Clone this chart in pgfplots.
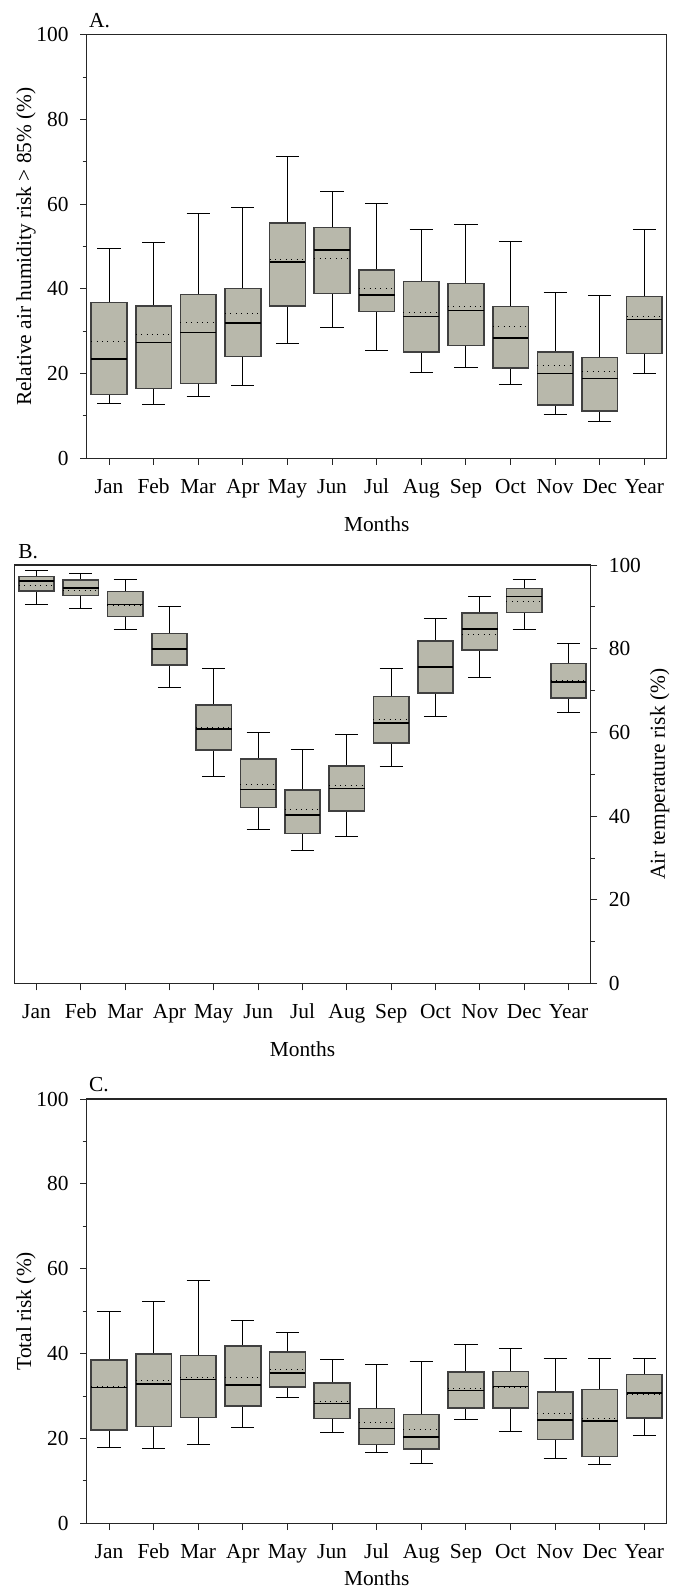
\documentclass[border=0pt]{standalone}
\usepackage{fontspec}
\setmainfont{Liberation Serif}
\usepackage{pgfplots}
\pgfplotsset{compat=1.18}
\usepgfplotslibrary{statistics}
\definecolor{boxfill}{RGB}{184,184,171}
\newcommand{\fnt}{\fontsize{10.7bp}{12.8bp}\selectfont}
% position, lower whisker, lower quartile, median, upper quartile, upper whisker, mean
\newcommand{\bx}[7]{\addplot[boxplot prepared={draw position=#1, lower whisker=#2, lower quartile=#3, median=#4, upper quartile=#5, upper whisker=#6, average=#7}] coordinates {};}
\pgfplotsset{
 base/.style={
   scale only axis, xmin=-0.5, xmax=12.5, ymin=0, ymax=100,
   xtick={0,...,12}, xticklabels={Jan,Feb,Mar,Apr,May,Jun,Jul,Aug,Sep,Oct,Nov,Dec,Year},
   ytick={0,20,...,100}, minor ytick={10,30,50,70,90},
   tick align=outside, xtick pos=bottom,
   major tick length=3.3bp, minor tick length=2bp,
   axis line style={black!85, line width=0.6bp},
   every tick/.style={black!85, line width=0.5bp},
   /pgf/number format/assume math mode=true,
   tick label style={font=\fnt, black},
   label style={font=\fnt},
   xticklabel style={yshift=-3bp, text height=7.4bp, text depth=0pt},
   xlabel={Months},
   every axis x label/.style={at={(axis description cs:0.5,0)}, anchor=north, yshift=-25.4bp, font=\fnt},
   boxplot/draw direction=y,
   boxplot/box extend=0.8,
   boxplot/whisker extend=0.52,
   boxplot/every box/.style={fill=boxfill, draw=black!75, line width=0.8bp},
   boxplot/every whisker/.style={black, line width=0.5bp},
   boxplot/every median/.style={black, line width=0.8bp},
   boxplot/every average/.style={black, line width=0.5bp, dash pattern=on 0.5bp off 2.2bp},
   boxplot/draw/average/.code={\draw[/pgfplots/boxplot/every average] (boxplot box cs:\pgfplotsboxplotvalue{average},0) -- (boxplot box cs:\pgfplotsboxplotvalue{average},1);},
 },
 leftaxis/.style={
   ytick pos=left,
   yticklabel style={xshift=-2bp},
   every axis y label/.style={at={(axis description cs:-0.1047,0.5)}, rotate=90, anchor=center, font=\fnt},
   every axis title/.style={at={(axis description cs:0,1)}, anchor=base west, inner sep=0pt, xshift=1bp, yshift=3.85bp, font=\fnt},
 },
}
\begin{document}
\fnt
\begin{tikzpicture}
\path[use as bounding box] (0,0) rectangle (339bp,-796.5bp);
% ---------------- A ----------------
\begin{axis}[base, leftaxis,
  at={(43.35bp,-229.15bp)}, anchor=south west,
  width=290bp, height=211.8bp,
  title={A.},
  ylabel={Relative air humidity risk > 85\% (\%)}]
\bx{0}{13.0}{15.1}{23.4}{36.8}{49.5}{27.5}
\bx{1}{12.6}{16.5}{27.3}{35.9}{50.9}{29.3}
\bx{2}{14.7}{17.7}{29.7}{38.7}{57.9}{32.1}
\bx{3}{17.3}{24.0}{32.0}{40.1}{59.1}{34.2}
\bx{4}{27.1}{36.0}{46.3}{55.5}{71.2}{46.9}
\bx{5}{30.9}{38.9}{49.2}{54.5}{63.0}{47.2}
\bx{6}{25.4}{34.7}{38.5}{44.5}{60.2}{40.1}
\bx{7}{20.3}{25.1}{33.5}{41.7}{54.1}{34.5}
\bx{8}{21.4}{26.6}{34.9}{41.3}{55.1}{35.8}
\bx{9}{17.5}{21.3}{28.4}{35.8}{51.1}{31.0}
\bx{10}{10.4}{12.6}{20.0}{25.1}{39.1}{22.0}
\bx{11}{8.8}{11.1}{18.8}{23.8}{38.5}{20.5}
\bx{12}{20.0}{24.7}{32.8}{38.2}{53.9}{33.5}
\end{axis}
% ---------------- B ----------------
\begin{axis}[base,
  at={(7.15bp,-491.85bp)}, anchor=south west,
  width=288.2bp, height=209.35bp,
  ytick pos=right, yticklabel pos=right,
  yticklabel style={xshift=2bp},
  every axis y label/.style={at={(axis description cs:1.1197,0.5)}, rotate=90, anchor=center, font=\fnt},
  every axis title/.style={at={(axis description cs:0,1)}, anchor=base west, inner sep=0pt, xshift=1.85bp, yshift=3.5bp, font=\fnt},
  title={B.},
  ylabel={Air temperature risk (\%)}]
\bx{0}{90.5}{93.8}{96.2}{97.3}{98.6}{95.0}
\bx{1}{89.6}{92.7}{94.5}{96.4}{97.9}{94.0}
\bx{2}{84.6}{87.7}{90.6}{93.7}{96.6}{90.4}
\bx{3}{70.7}{76.1}{79.9}{83.6}{90.0}{79.9}
\bx{4}{49.6}{55.8}{60.9}{66.6}{75.4}{61.1}
\bx{5}{36.8}{42.1}{46.4}{53.7}{59.9}{47.6}
\bx{6}{31.9}{35.9}{40.3}{46.3}{55.9}{41.7}
\bx{7}{35.2}{41.2}{46.6}{52.0}{59.6}{47.4}
\bx{8}{51.8}{57.5}{62.3}{68.6}{75.4}{63.1}
\bx{9}{63.7}{69.5}{75.6}{81.9}{87.3}{75.5}
\bx{10}{73.2}{79.7}{84.7}{88.5}{92.4}{83.5}
\bx{11}{84.5}{88.7}{92.5}{94.4}{96.6}{91.2}
\bx{12}{64.7}{68.2}{72.1}{76.5}{81.3}{72.4}
\end{axis}
% ---------------- C ----------------
\begin{axis}[base, leftaxis,
  at={(43.35bp,-761.7bp)}, anchor=south west,
  width=290bp, height=212.2bp,
  every axis x label/.style={at={(axis description cs:0.5,0)}, anchor=north, yshift=-19.6bp, font=\fnt},
  title={C.},
  ylabel={Total risk (\%)}]
\bx{0}{18.0}{22.0}{32.0}{38.5}{49.9}{32.2}
\bx{1}{17.6}{22.8}{32.9}{39.9}{52.3}{33.6}
\bx{2}{18.6}{25.0}{33.9}{39.6}{57.3}{34.5}
\bx{3}{22.5}{27.6}{32.6}{41.8}{47.7}{34.5}
\bx{4}{29.6}{32.1}{35.4}{40.4}{45.0}{36.3}
\bx{5}{21.5}{24.7}{28.3}{33.1}{38.7}{28.7}
\bx{6}{16.7}{18.6}{22.4}{27.1}{37.4}{23.7}
\bx{7}{14.1}{17.6}{20.3}{25.7}{38.1}{22.2}
\bx{8}{24.4}{27.2}{31.3}{35.7}{42.1}{31.8}
\bx{9}{21.7}{27.2}{32.3}{35.8}{41.1}{32.0}
\bx{10}{15.3}{19.8}{24.4}{31.0}{38.8}{26.0}
\bx{11}{13.8}{15.8}{24.1}{31.6}{38.8}{24.7}
\bx{12}{20.6}{24.8}{30.7}{35.1}{38.8}{30.4}
\end{axis}
\end{tikzpicture}
\end{document}
